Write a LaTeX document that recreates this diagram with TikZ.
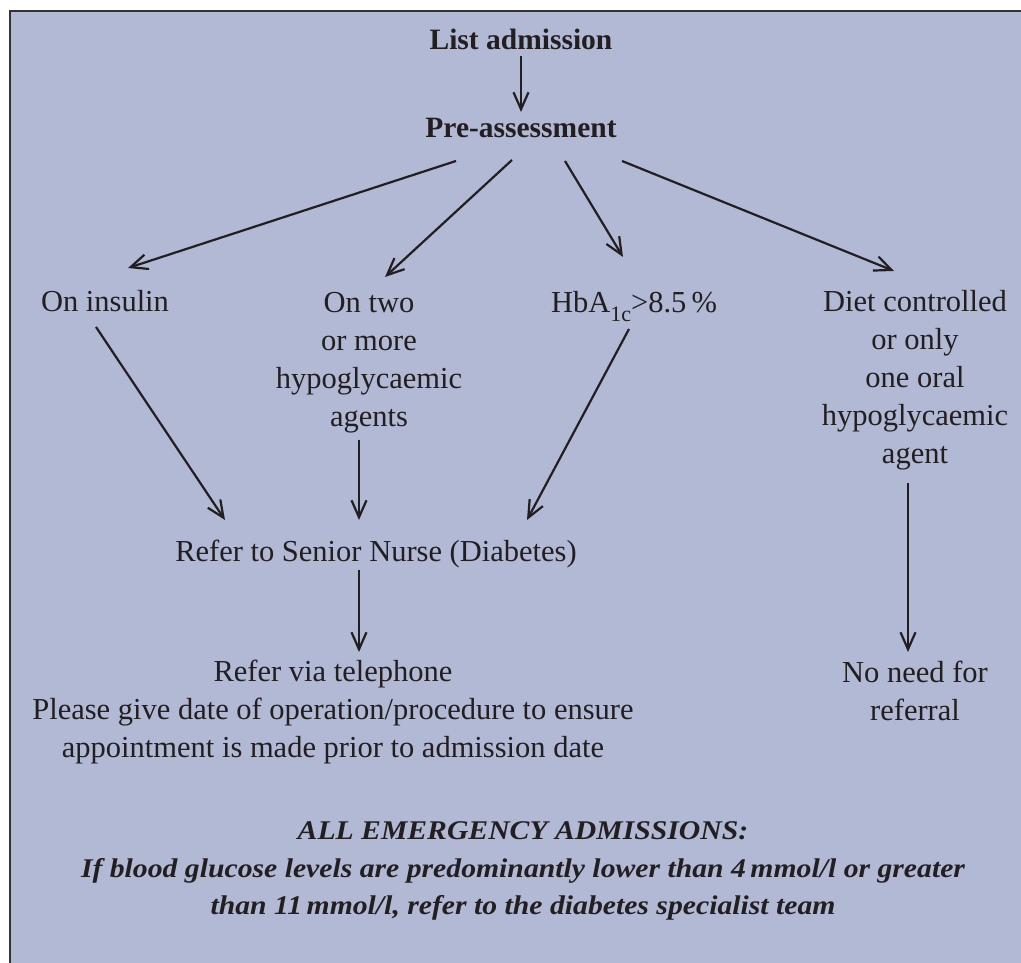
\documentclass[tikz,border=0pt]{standalone}
\usepackage{fontspec}
\setmainfont{Liberation Serif}
\newfontfamily\notefont[FakeStretch=1.1]{Liberation Serif}
\usetikzlibrary{arrows.meta}

\definecolor{boxblue}{HTML}{B1B9D5}
\definecolor{inkgray}{HTML}{231F20}

\begin{document}
\begin{tikzpicture}[->,>={Straight Barb[length=17pt,width=15pt]},x=1pt,y=1pt,line width=2.2pt,color=inkgray,
  main node/.style={anchor=base,inner sep=0pt,align=center,font=\fontsize{30.5}{38}\selectfont},
  head node/.style={main node,font=\fontsize{29.5}{38}\selectfont\bfseries},
  note node/.style={main node,font=\notefont\fontsize{27}{37.5}\selectfont\bfseries\itshape}]

        \useasboundingbox (0,0) rectangle (1021,963);
        \fill[boxblue] (10,0) rectangle (1021,952);
        \draw[-,line width=2pt,black!80] (10,0) -- (10,952) -- (1021,952);

        % multi-line nodes sit on the baseline of their last line
        \node[head node] (0) at (521,913) {List admission};
        \node[head node] (1) at (521,825) {Pre-assessment};
        \node[main node] (2) at (105,651) {On insulin};
        \node[main node] (3) at (369,536) {On two\\or more\\hypoglycaemic\\agents};
        \node[main node] (4) at (634,650) {HbA\raisebox{-0.28em}{\fontsize{22}{22}\selectfont 1c}>8.5\,\%};
        \node[main node] (5) at (915,499) {Diet controlled\\or only\\one oral\\hypoglycaemic\\agent};
        \node[main node] (6) at (376,401) {Refer to Senior Nurse (Diabetes)};
        \node[main node] (7) at (333,205) {Refer via telephone\\Please give date of operation/procedure to ensure\\appointment is made prior to admission date};
        \node[main node] (8) at (915,242) {No need for\\referral};
        \node[note node] (9) at (523,48) {ALL EMERGENCY ADMISSIONS:\\If blood glucose levels are predominantly lower than 4\,mmol/l or greater\\than 11\,mmol/l, refer to the diabetes specialist team};

          \path
            ([shift={(0,-6)}]0.base)      edge ([shift={(0,26)}]1.base)
            ([shift={(-65,-23)}]1.base)   edge ([shift={(23,44)}]2.base)
            ([shift={(-9,-22)}]1.base)    edge ([shift={(16,150)}]3.base)
            ([shift={(44,-23)}]1.base)    edge ([shift={(-11,56)}]4.base)
            ([shift={(101,-23)}]1.base)   edge ([shift={(-21,193)}]5.base)
            ([shift={(-9,-15)}]2.base)    edge ([shift={(-151,42)}]6.base)
            ([shift={(-10,-13)}]3.base)   edge ([shift={(-17,42)}]6.base)
            ([shift={(-5,-16)}]4.base)    edge ([shift={(151,42)}]6.base)
            ([shift={(-17,-8)}]6.base)    edge ([shift={(26,106)}]7.base)
            ([shift={(-7,-19)}]5.base)    edge ([shift={(-7,69)}]8.base);
\end{tikzpicture}
\end{document}
